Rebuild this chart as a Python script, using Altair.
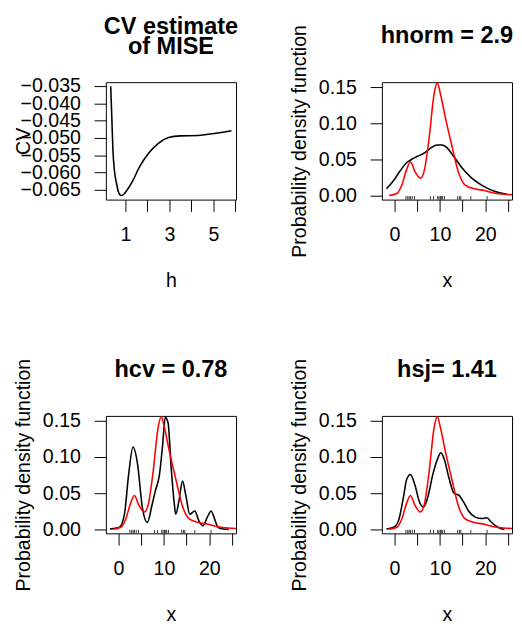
import altair as alt
import pandas as pd

FONT = "Liberation Sans"

# ---- Panel 1: CV estimate of MISE ----
cv_h = [0.33, 0.38, 0.43, 0.50, 0.59, 0.68, 0.80, 0.95, 1.10, 1.33, 1.62, 2.07,
        2.51, 2.96, 3.5, 4.3, 5.04, 5.82]
cv_val = [-0.0351, -0.0440, -0.0534, -0.0595, -0.0630, -0.0655, -0.0666, -0.0661,
          -0.0648, -0.0624, -0.0586, -0.0543, -0.0515, -0.0499, -0.0494, -0.0493,
          -0.0487, -0.0479]
cv_ticks_x = [1, 2, 3, 4, 5, 6]
cv_ticks_y = [-0.065, -0.060, -0.055, -0.050, -0.045, -0.040, -0.035]

# ---- true density (red) ----
true_x = [-1.2, 0.5, 1.57, 2.64, 3.5, 4.43, 5.7, 6.6, 7.64, 8.7, 9.4, 10.14, 11.2,
          12.6, 14.1, 15.5, 17.6, 19.8, 21.9, 24.1, 25.9]
true_d = [0.0003, 0.003, 0.014, 0.036, 0.047, 0.034, 0.024, 0.036, 0.081, 0.14,
          0.156, 0.14, 0.108, 0.070, 0.032, 0.015, 0.0095, 0.007, 0.0036, 0.0018,
          0.0013]

# ---- kernel estimates (black) ----
hnorm_x = [-1.8, -0.2, 1.2, 2.64, 3.7, 5.1, 6.57, 8.0, 9.43, 10.5, 11.6, 13.0,
           14.8, 16.9, 19.1, 21.2, 23.4, 24.8]
hnorm_d = [0.0095, 0.021, 0.034, 0.0455, 0.050, 0.0545, 0.059, 0.066, 0.070,
           0.070, 0.066, 0.0545, 0.039, 0.025, 0.015, 0.008, 0.0036, 0.0018]

hcv_x = [-1.9, 0.2, 1.3, 2.2, 3.2, 4.17, 5.25, 6.33, 7.4, 8.1, 9.0, 9.7, 10.3,
         10.9, 11.6, 12.3, 12.6, 13.3, 14.1, 14.8, 15.7, 16.8, 17.7, 18.6, 19.5,
         20.4, 21.2, 21.9, 23.2, 24.3]
hcv_d = [0.0005, 0.003, 0.021, 0.075, 0.114, 0.091, 0.030, 0.0095, 0.0345, 0.053,
         0.075, 0.116, 0.155, 0.148, 0.085, 0.0345, 0.021, 0.039, 0.067, 0.048,
         0.021, 0.0255, 0.012, 0.005, 0.016, 0.0255, 0.014, 0.003, 0.0005, 0.0]

hsj_x = [-1.8, -0.2, 0.86, 1.94, 2.66, 3.5, 4.46, 5.54, 6.4, 7.3, 8.4, 9.5, 10.2,
         10.9, 12.0, 13.1, 14.2, 15.3, 16.3, 17.8, 19.2, 20.3, 21.4, 22.8, 24.2]
hsj_d = [0.0005, 0.003, 0.012, 0.044, 0.069, 0.076, 0.062, 0.037, 0.031, 0.044,
         0.075, 0.098, 0.106, 0.098, 0.071, 0.050, 0.047, 0.037, 0.0255, 0.017,
         0.015, 0.016, 0.0095, 0.003, 0.0]

rug_x = [2.5, 2.9, 3.2, 3.5, 3.9, 4.4, 7.9, 8.6, 9.5, 9.8, 10.1, 10.3, 10.6, 11.0,
         13.9, 14.3, 14.6, 16.8, 20.4]

dens_ticks_x = [0, 5, 10, 15, 20, 25]
dens_ticks_y = [0.0, 0.05, 0.10, 0.15]

titles = ["CV estimate\nof MISE", "hnorm = 2.9", "hcv = 0.78", "hsj= 1.41"]

X_DOM = [-2.8, 25.9]
Y_DOM = [-0.0055, 0.157]
W = 133
H = 120
TITLE_X = -78
LINE_W = 1.6


def title_layer(text, ypos):
    return alt.Chart(pd.DataFrame({"t": [text]})).mark_text(
        font=FONT, fontSize=24, fontWeight="bold", color="black", align="center",
        baseline="alphabetic", lineBreak="\n", lineHeight=20
    ).encode(text="t:N", x=alt.value(W / 2), y=alt.value(ypos))


# ---- CV panel ----
cv_df = pd.DataFrame({"h": cv_h, "cv": cv_val})
cv_line = alt.Chart(cv_df).mark_line(color="black", strokeWidth=LINE_W,
                                     interpolate="monotone", clip=True).encode(
    x=alt.X("h:Q", scale=alt.Scale(domain=[0.11, 6.03], nice=False, zero=False),
            axis=alt.Axis(values=cv_ticks_x, tickCount=20, title="h", titleY=89,
                          titleBaseline="alphabetic",
                          labelExpr="datum.value % 2 == 1 ? format(datum.value, 'd') : ''")),
    y=alt.Y("cv:Q", scale=alt.Scale(domain=[-0.0678, -0.0339], nice=False, zero=False),
            axis=alt.Axis(values=cv_ticks_y, tickCount=20, format=".3f", title="CV",
                          titleX=TITLE_X, titleBaseline="alphabetic")),
)
p1 = alt.layer(cv_line, title_layer(titles[0], -49)).properties(width=W, height=H)


def dens_panel(bx, bd, ttl):
    xax = alt.Axis(values=dens_ticks_x, tickCount=20, title="x", titleY=89,
                   titleBaseline="alphabetic",
                   labelExpr="datum.value % 10 == 0 ? format(datum.value, 'd') : ''")
    yax = alt.Axis(values=dens_ticks_y, tickCount=20, format=".2f",
                   title="Probability density function",
                   titleX=TITLE_X, titleBaseline="alphabetic")
    xs = alt.Scale(domain=X_DOM, nice=False, zero=False)
    ys = alt.Scale(domain=Y_DOM, nice=False, zero=False)
    black = alt.Chart(pd.DataFrame({"x": bx, "d": bd})).mark_line(
        color="black", strokeWidth=LINE_W, interpolate="monotone", clip=True).encode(
        x=alt.X("x:Q", scale=xs, axis=xax), y=alt.Y("d:Q", scale=ys, axis=yax))
    red = alt.Chart(pd.DataFrame({"x": true_x, "d": true_d})).mark_line(
        color="#ff0000", strokeWidth=LINE_W, interpolate="monotone", clip=True).encode(
        x="x:Q", y="d:Q")
    rug = alt.Chart(pd.DataFrame({"x": rug_x})).mark_rule(
        color="black", strokeWidth=0.8).encode(
        x="x:Q", y=alt.datum(Y_DOM[0]),
        y2=alt.datum(Y_DOM[0] + 0.03 * (Y_DOM[1] - Y_DOM[0])))
    return alt.layer(black, red, rug, title_layer(ttl, -40)).properties(width=W, height=H)


p2 = dens_panel(hnorm_x, hnorm_d, titles[1])
p3 = dens_panel(hcv_x, hcv_d, titles[2])
p4 = dens_panel(hsj_x, hsj_d, titles[3])

chart = alt.concat(p1, p2, p3, p4, columns=2, spacing={"row": 221, "column": 149},
                   bounds="flush").properties(
    padding={"left": 5, "top": 0, "right": 0, "bottom": 0}
).configure_view(stroke="black", strokeWidth=1).configure_axis(
    labelFont=FONT, titleFont=FONT, labelFontSize=20, titleFontSize=20,
    titleFontWeight="normal", labelColor="black", titleColor="black",
    tickColor="black", tickSize=12, tickWidth=1, domain=False, grid=False,
    labelOverlap=False, labelFlush=False
).configure_axisX(labelPadding=14).configure_axisY(labelPadding=14)

chart.save("out.html", embed_options={"renderer": "svg", "actions": False})
